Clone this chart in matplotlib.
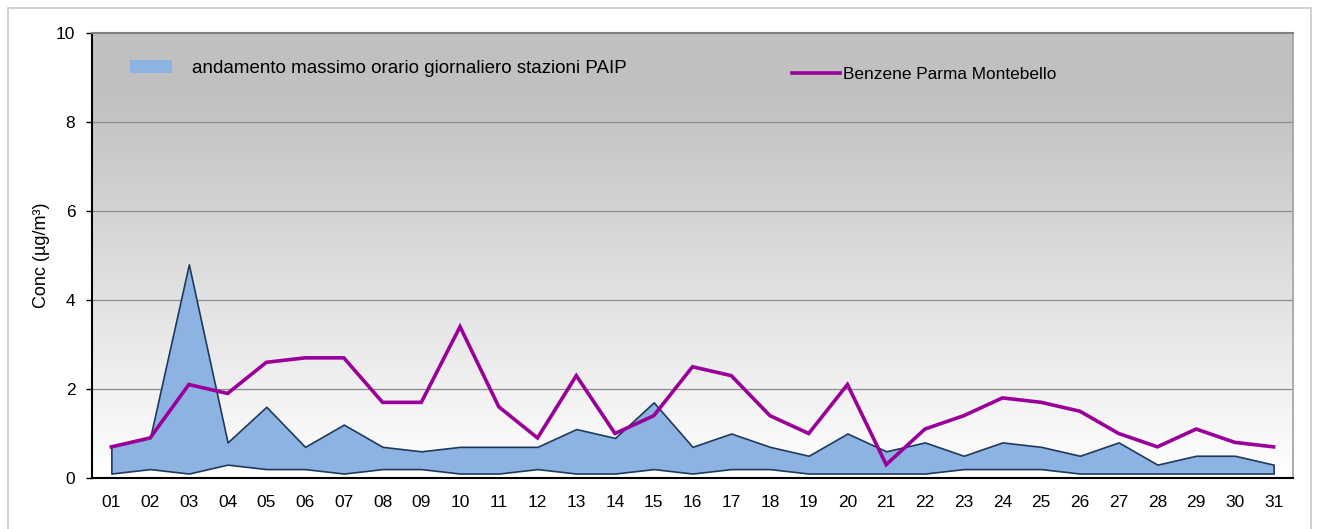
import numpy as np
import matplotlib
matplotlib.use("Agg")
import matplotlib.pyplot as plt
from matplotlib.patches import Patch, Rectangle
from matplotlib.lines import Line2D

plt.rcParams['font.family'] = ['Liberation Sans', 'DejaVu Sans']

days = ["01", "02", "03", "04", "05", "06", "07", "08", "09", "10", "11", "12", "13", "14", "15", "16",
        "17", "18", "19", "20", "21", "22", "23", "24", "25", "26", "27", "28", "29", "30", "31"]
paip_max = [0.7, 0.9, 4.8, 0.8, 1.6, 0.7, 1.2, 0.7, 0.6, 0.7, 0.7, 0.7, 1.1, 0.9, 1.7, 0.7,
            1.0, 0.7, 0.5, 1.0, 0.6, 0.8, 0.5, 0.8, 0.7, 0.5, 0.8, 0.3, 0.5, 0.5, 0.3]
paip_min = [0.1, 0.2, 0.1, 0.3, 0.2, 0.2, 0.1, 0.2, 0.2, 0.1, 0.1, 0.2, 0.1, 0.1, 0.2, 0.1,
            0.2, 0.2, 0.1, 0.1, 0.1, 0.1, 0.2, 0.2, 0.2, 0.1, 0.1, 0.1, 0.1, 0.1, 0.1]
montebello = [0.7, 0.9, 2.1, 1.9, 2.6, 2.7, 2.7, 1.7, 1.7, 3.4, 1.6, 0.9, 2.3, 1.0, 1.4, 2.5,
              2.3, 1.4, 1.0, 2.1, 0.3, 1.1, 1.4, 1.8, 1.7, 1.5, 1.0, 0.7, 1.1, 0.8, 0.7]
yticks = [0, 2, 4, 6, 8, 10]

fig = plt.figure(figsize=(13.19, 5.29), dpi=100)
fig.patches.append(Rectangle((8 / 1319, -0.05), (1311 - 8) / 1319, 1.05 - 8 / 529,
                             transform=fig.transFigure, fill=False,
                             edgecolor='#c8c8c8', linewidth=1.2, zorder=0))
ax = fig.add_axes([92 / 1319, (529 - 478) / 529, (1293 - 92) / 1319, (478 - 33) / 529])

x = np.arange(len(days))
ax.set_xlim(-0.5, len(days) - 0.5)
ax.set_ylim(0, 10)

# background gradient
grad = np.linspace(1.0, 0.0, 256).reshape(-1, 1)
top_c = np.array([0.753, 0.753, 0.753])
bot_c = np.array([1.0, 1.0, 1.0])
frac = np.clip(grad * 1.15, 0, 1)
img = bot_c + (top_c - bot_c) * frac[..., None]
ax.imshow(img, extent=[-0.5, len(days) - 0.5, 0, 10], aspect='auto',
          origin='upper', zorder=0, interpolation='bilinear')

for yv in yticks[1:-1]:
    ax.axhline(yv, color='#8c8c8c', linewidth=0.9, zorder=1)

ax.fill_between(x, paip_min, paip_max, facecolor='#8db3e2', edgecolor='#1f3a5a',
                linewidth=1.2, zorder=2)
ax.plot(x, montebello, color='#990099', linewidth=2.6, zorder=3, solid_joinstyle='miter')

ax.set_xticks(x)
ax.set_xticklabels(days, fontsize=12.5)
ax.set_yticks(yticks)
ax.set_yticklabels([str(v) for v in yticks], fontsize=12.5)
ax.tick_params(axis='x', length=0, pad=12)
ax.tick_params(axis='y', length=4, width=1, pad=8)
ax.set_ylabel('Conc (µg/m³)', fontsize=13, labelpad=4)

ax.spines['left'].set_color('black')
ax.spines['left'].set_linewidth(1.5)
ax.spines['bottom'].set_color('black')
ax.spines['bottom'].set_linewidth(1.5)
ax.spines['top'].set_color('#808080')
ax.spines['top'].set_linewidth(1.5)
ax.spines['right'].set_color('#a0a0a0')
ax.spines['right'].set_linewidth(1.2)

leg1 = ax.legend([Patch(facecolor='#8db3e2', edgecolor='none')],
                 ['andamento massimo orario giornaliero stazioni PAIP'],
                 loc='center left', bbox_to_anchor=(0.0175, 0.92), frameon=False,
                 fontsize=13.5, handlelength=2.24, handleheight=0.7, handletextpad=1.07)
ax.add_artist(leg1)
ax.legend([Line2D([0], [0], color='#990099', linewidth=2.6)],
          ['Benzene Parma Montebello'],
          loc='center left', bbox_to_anchor=(0.570, 0.906), frameon=False,
          fontsize=12.4, handlelength=2.8, handletextpad=0.15)

fig.savefig('out.png', dpi=100)
